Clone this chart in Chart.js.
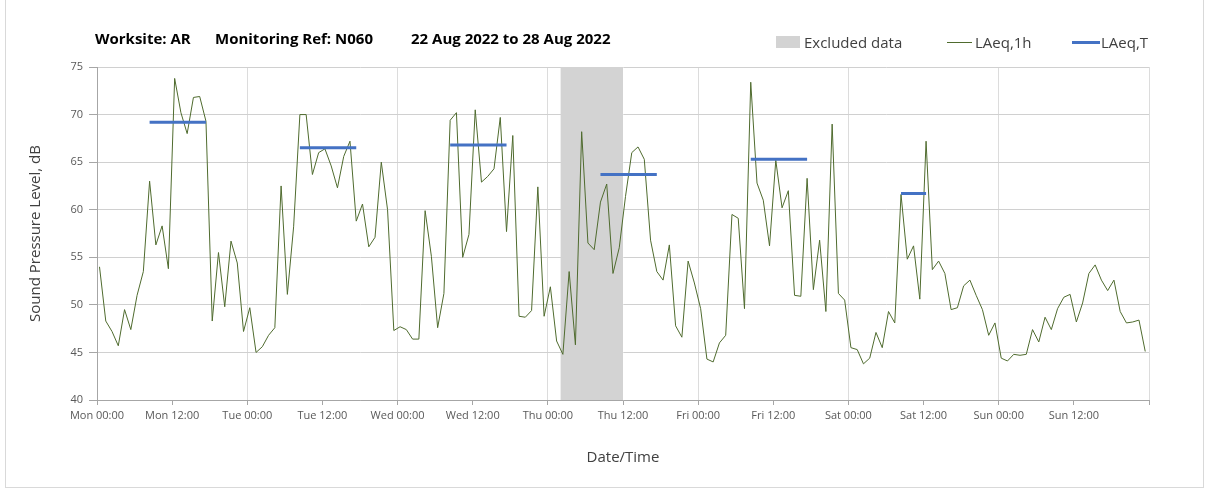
<!DOCTYPE html>
<html>
<head>
<meta charset="utf-8">
<script src="https://cdn.jsdelivr.net/npm/chart.js@4/dist/chart.umd.min.js"></script>
<style>
  body { margin: 0; background: #fff; overflow: hidden; }
  #wrap { position: relative; width: 1208px; height: 491px; font-family: "Open Sans", sans-serif; }
  #frame { position: absolute; left: 5px; top: -1px; width: 1197px; height: 487px; border: 1px solid #d9d9d9; }
  #chart { position: absolute; left: 0; top: 0; }
  .ttl { position: absolute; top: 28px; font-weight: bold; font-size: 15px; color: #000; white-space: nowrap; }
  .leg { position: absolute; top: 32px; font-size: 15px; color: #404040; white-space: nowrap; }
  .sw { position: absolute; }
</style>
</head>
<body>
<div id="wrap">
  <div id="frame"></div>
  <canvas id="chart" width="1208" height="491"></canvas>
  <span class="ttl" style="left:95px">Worksite: AR</span>
  <span class="ttl" style="left:215px">Monitoring Ref: N060</span>
  <span class="ttl" style="left:411px">22 Aug 2022 to 28 Aug 2022</span>

  <div class="sw" style="left:776px;top:36px;width:24px;height:12px;background:#d3d3d3"></div>
  <span class="leg" style="left:804px">Excluded data</span>
  <div class="sw" style="left:947px;top:42px;width:25px;height:1px;background:#4f6b2e"></div>
  <span class="leg" style="left:975px">LAeq,1h</span>
  <div class="sw" style="left:1072px;top:41px;width:28px;height:3px;background:#4472C4"></div>
  <span class="leg" style="left:1101px">LAeq,T</span>
</div>
<script>
// hourly LAeq,1h values, Mon 00:00 onwards (168 hours)
const laeq1h = [
  54.0, 48.3, 47.2, 45.7, 49.5, 47.4, 51.0, 53.5, 63.0, 56.3, 58.3, 53.8,
  73.8, 70.2, 68.0, 71.8, 71.9, 69.3, 48.3, 55.5, 49.8, 56.7, 54.4, 47.2,
  49.7, 45.0, 45.6, 46.8, 47.6, 62.5, 51.1, 58.2, 70.0, 70.0, 63.7, 66.0,
  66.4, 64.6, 62.3, 65.6, 67.2, 58.8, 60.6, 56.1, 57.1, 65.0, 60.0, 47.3,
  47.7, 47.4, 46.4, 46.4, 59.9, 55.1, 47.6, 51.2, 69.4, 70.2, 55.0, 57.4,
  70.5, 62.9, 63.5, 64.3, 69.7, 57.7, 67.8, 48.8, 48.7, 49.4, 62.4, 48.8,
  51.9, 46.2, 44.8, 53.5, 45.8, 68.2, 56.5, 55.8, 60.8, 62.7, 53.3, 56.0,
  61.4, 66.0, 66.6, 65.3, 56.8, 53.5, 52.6, 56.3, 47.8, 46.6, 54.6, 52.3,
  49.6, 44.3, 44.0, 46.0, 46.8, 59.5, 59.1, 49.6, 73.4, 62.8, 61.0, 56.2,
  65.2, 60.2, 62.0, 51.0, 50.9, 63.3, 51.6, 56.8, 49.3, 69.0, 51.2, 50.5,
  45.5, 45.3, 43.8, 44.4, 47.1, 45.5, 49.3, 48.1, 61.6, 54.8, 56.2, 50.6,
  67.2, 53.7, 54.6, 53.3, 49.5, 49.7, 52.0, 52.6, 51.0, 49.5, 46.8, 48.1,
  44.4, 44.1, 44.8, 44.7, 44.8, 47.4, 46.1, 48.7, 47.4, 49.6, 50.8, 51.1,
  48.2, 50.2, 53.3, 54.2, 52.6, 51.5, 52.6, 49.3, 48.1, 48.2, 48.4, 45.1
];

// LAeq,T periods (hour index from Mon 00:00)
const laeqTStart = [8, 32, 56, 80, 104, 128];
const laeqTEnd = [17, 41, 65, 89, 113, 132];
const laeqTLevel = [69.2, 66.5, 66.8, 63.7, 65.3, 61.7];

// excluded data window (hours)
const excludedFrom = 74;
const excludedTo = 84;

const xTickLabels = ['Mon 00:00', 'Mon 12:00', 'Tue 00:00', 'Tue 12:00', 'Wed 00:00', 'Wed 12:00',
  'Thu 00:00', 'Thu 12:00', 'Fri 00:00', 'Fri 12:00', 'Sat 00:00', 'Sat 12:00', 'Sun 00:00', 'Sun 12:00'];

const yMin = 40, yMax = 75, yStep = 5;
const hourOffset = 0.4; // readings plotted a bit after the hour

var lineData = laeq1h.map(function (v, i) { return { x: i + hourOffset, y: v }; });

var tData = [];
for (var k = 0; k < laeqTStart.length; k++) {
  tData.push({ x: laeqTStart[k] + hourOffset, y: laeqTLevel[k] });
  tData.push({ x: laeqTEnd[k] + hourOffset, y: laeqTLevel[k] });
  tData.push({ x: laeqTEnd[k] + hourOffset + 0.5, y: null }); // break between days
}

var tickFont = { family: '"Open Sans", sans-serif', size: 11 };

new Chart(document.getElementById('chart').getContext('2d'), {
  type: 'line',
  data: {
    datasets: [
      {
        label: 'LAeq,T', data: tData, borderColor: '#4472C4', borderWidth: 3,
        pointRadius: 0, spanGaps: false, borderCapStyle: 'butt', order: 1
      },
      {
        label: 'LAeq,1h', data: lineData, borderColor: '#4f6b2e', borderWidth: 1,
        pointRadius: 0, tension: 0, order: 2
      },
      {
        label: 'Excluded data', data: [{ x: excludedFrom, y: yMax }, { x: excludedTo, y: yMax }],
        borderWidth: 0, backgroundColor: '#d3d3d3', fill: 'start', pointRadius: 0, order: 3
      }
    ]
  },
  options: {
    responsive: false,
    animation: false,
    layout: { padding: { left: 0, right: 59, top: 67, bottom: 0 } },
    plugins: { legend: { display: false }, tooltip: { enabled: false } },
    scales: {
      x: {
        type: 'linear', min: 0, max: 168,
        afterFit: function (scale) { scale.height = 91; },
        ticks: {
          stepSize: 12, autoSkip: false, maxRotation: 0, padding: 4,
          color: '#595959', font: tickFont,
          callback: function (v) { return xTickLabels[v / 12] || ''; }
        },
        grid: {
          color: function (c) { return c.tick && c.tick.value % 24 === 0 ? '#dcdcdc' : 'rgba(0,0,0,0)'; },
          tickColor: '#a6a6a6', tickLength: 5
        },
        border: { color: '#a6a6a6' },
        title: {
          display: true, text: 'Date/Time', color: '#404040',
          font: { family: '"Open Sans", sans-serif', size: 15 },
          padding: { top: 0, bottom: 24 }
        }
      },
      y: {
        min: yMin, max: yMax,
        afterFit: function (scale) { scale.width = 97; },
        ticks: { stepSize: yStep, padding: 6, color: '#595959', font: tickFont },
        grid: { color: '#d0d0d0', tickColor: '#a6a6a6', tickLength: 8 },
        border: { color: '#a6a6a6' },
        title: {
          display: true, text: 'Sound Pressure Level, dB', color: '#404040',
          font: { family: '"Open Sans", sans-serif', size: 15 },
          padding: { top: 27, bottom: 0 }
        }
      }
    }
  }
});
</script>
</body>
</html>
